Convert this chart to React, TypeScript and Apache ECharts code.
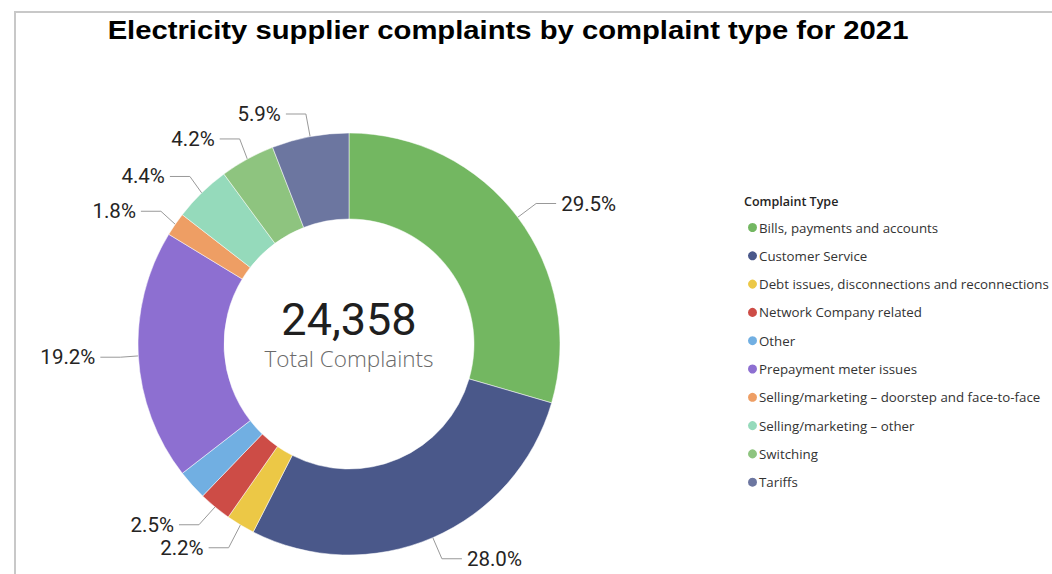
import React, { useEffect, useRef } from "react";
import * as echarts from "echarts";

const categories = [
  "Bills, payments and accounts",
  "Customer Service",
  "Debt issues, disconnections and reconnections",
  "Network Company related",
  "Other",
  "Prepayment meter issues",
  "Selling/marketing – doorstep and face-to-face",
  "Selling/marketing – other",
  "Switching",
  "Tariffs",
];
const complaints = [7186, 6820, 536, 609, 560, 4677, 438, 1072, 1023, 1437];
const colors = [
  "#73B761",
  "#4A588A",
  "#ECC846",
  "#CD4C46",
  "#71AFE2",
  "#8D6FD1",
  "#EE9E64",
  "#95DABB",
  "#8EC47F",
  "#6C76A0",
];
const hiddenLabels = ["Other"];
const titleText = "Electricity supplier complaints by complaint type for 2021";
const legendTitle = "Complaint Type";
const centerSub = "Total Complaints";

export default function App() {
  const ref = useRef<HTMLDivElement>(null);
  useEffect(() => {
    if (!ref.current) return;
    const chart = echarts.init(ref.current, undefined, { renderer: "svg" });
    const total = complaints.reduce((a, b) => a + b, 0);
    const data = categories.map((name, i) => {
      const hide = hiddenLabels.includes(name);
      return {
        name,
        value: complaints[i],
        itemStyle: { color: colors[i] },
        label: hide ? { show: false } : undefined,
        labelLine: hide ? { show: false } : undefined,
      };
    });
    chart.setOption({
      animation: false,
      backgroundColor: "#ffffff",
      legend: {
        orient: "vertical",
        left: 741,
        top: 216,
        icon: "circle",
        itemWidth: 11,
        itemHeight: 11,
        itemGap: 15.3,
        textStyle: {
          fontFamily: "Open Sans",
          fontSize: 13.3,
          color: "#333333",
          padding: [0, 0, 0, -4],
        },
        data: categories,
      },
      graphic: [
        {
          type: "polyline",
          shape: { points: [[15, 574], [15, 12], [1052, 12]] },
          style: { stroke: "#c8c8c8", lineWidth: 2, fill: "none" },
          silent: true,
        },
        {
          type: "text",
          x: 508,
          y: 30,
          scaleX: 1.17,
          originX: 0,
          style: {
            text: titleText,
            font: "bold 25px 'Liberation Sans', Arial, sans-serif",
            fill: "#000000",
            textAlign: "center",
            textVerticalAlign: "middle",
          },
        },
        {
          type: "text",
          left: 744,
          top: 195,
          style: {
            text: legendTitle,
            font: "600 12.5px 'Open Sans', sans-serif",
            fill: "#252423",
          },
        },
        {
          type: "text",
          x: 349,
          y: 319,
          style: {
            text: total.toLocaleString("en-US"),
            font: "45px Roboto, sans-serif",
            lineHeight: 38,
            fill: "#1f1f1f",
            textAlign: "center",
            textVerticalAlign: "middle",
          },
        },
        {
          type: "text",
          x: 349,
          y: 358,
          style: {
            text: centerSub,
            font: "300 22.5px 'Open Sans', sans-serif",
            lineHeight: 22,
            fill: "#6a6a6a",
            textAlign: "center",
            textVerticalAlign: "middle",
          },
        },
      ],
      series: [
        {
          type: "pie",
          center: [349, 344],
          radius: [125, 211],
          startAngle: 90,
          clockwise: true,
          avoidLabelOverlap: true,
          itemStyle: { borderColor: "#ffffff", borderWidth: 0.5 },
          label: {
            show: true,
            position: "outside",
            formatter: (p: any) => ((p.value / total) * 100).toFixed(1) + "%",
            fontFamily: "Roboto",
            fontSize: 20.5,
            color: "#252423",
            distanceToLabelLine: 5,
          },
          labelLine: {
            show: true,
            length: 23,
            length2: 20,
            lineStyle: { color: "#999999", width: 1 },
          },
          emphasis: { disabled: true },
          data,
        },
      ],
    });
    return () => chart.dispose();
  }, []);
  return (
    <div
      ref={ref}
      style={{ position: "fixed", left: 0, top: 0, width: 1052, height: 574 }}
    />
  );
}
